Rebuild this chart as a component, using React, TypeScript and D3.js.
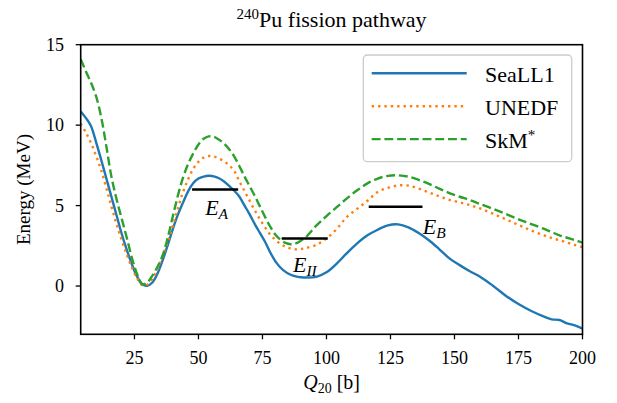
import React from 'react'
import * as d3 from 'd3'

// Q20 grid (barns) shared by the three functionals
const q20 = [
  4, 6, 8, 10, 12, 14, 16, 18, 20, 22, 24, 26, 28, 30, 32, 34, 36, 38, 40, 42, 44, 46, 48, 50, 52, 54, 56,
  58, 60, 62, 64, 66, 68, 70, 72, 74, 76, 78, 80, 82, 84, 86, 88, 90, 92, 96, 100, 104, 108, 112, 116, 120,
  124, 128, 132, 136, 140, 144, 148, 152, 156, 160, 165, 170, 175, 180, 185, 188, 191, 194, 197, 200,
]

const seall1 = [
  10.85, 10.45, 9.95, 8.95, 7.85, 6.7, 5.55, 4.4, 3.25, 2.25, 1.35, 0.6, 0.12, 0.02, 0.22, 0.78, 1.6, 2.55,
  3.55, 4.45, 5.2, 5.9, 6.4, 6.68, 6.8, 6.85, 6.82, 6.7, 6.5, 6.22, 5.92, 5.55, 5.0, 4.45, 3.85, 3.3, 2.75,
  2.1, 1.55, 1.15, 0.88, 0.7, 0.6, 0.55, 0.53, 0.57, 0.85, 1.4, 2.05, 2.65, 3.15, 3.5, 3.77, 3.83, 3.65, 3.3,
  2.85, 2.3, 1.72, 1.3, 0.92, 0.58, 0.02, -0.6, -1.12, -1.55, -1.9, -2.07, -2.11, -2.32, -2.45, -2.65,
]

const unedf = [
  10.1, 9.55, 8.9, 8.1, 7.2, 6.1, 4.95, 3.85, 2.85, 1.95, 1.15, 0.5, 0.06, 0.08, 0.45, 1.05, 1.85, 2.75,
  3.75, 4.85, 5.85, 6.65, 7.3, 7.72, 7.98, 8.08, 8.05, 7.92, 7.75, 7.5, 7.15, 6.5, 5.9, 5.3, 4.7, 4.15, 3.65,
  3.2, 2.88, 2.62, 2.44, 2.33, 2.28, 2.3, 2.36, 2.56, 2.95, 3.55, 4.3, 4.8, 5.3, 5.85, 6.1, 6.25, 6.24, 6.05,
  5.82, 5.58, 5.36, 5.2, 5.03, 4.82, 4.5, 4.15, 3.8, 3.45, 3.15, 2.98, 2.85, 2.7, 2.55, 2.42,
]

const skm = [
  14.1, 13.35, 12.65, 11.8, 10.5, 8.7, 6.8, 5.4, 4.2, 3.0, 1.75, 0.75, 0.12, 0.22, 0.65, 1.2, 1.9, 3.0, 4.35,
  5.65, 6.75, 7.6, 8.25, 8.8, 9.15, 9.3, 9.28, 9.1, 8.85, 8.5, 8.05, 7.45, 6.8, 6.2, 5.6, 4.95, 4.3, 3.7, 3.2,
  2.88, 2.68, 2.6, 2.65, 2.82, 3.05, 3.75, 4.35, 4.9, 5.45, 5.95, 6.38, 6.68, 6.85, 6.88, 6.8, 6.6, 6.35, 6.05,
  5.78, 5.55, 5.35, 5.1, 4.8, 4.48, 4.15, 3.85, 3.55, 3.35, 3.15, 3.0, 2.85, 2.7,
]

// barrier / isomer reference levels
const levelNames = ['A', 'II', 'B']
const levelE = [6.0, 2.95, 4.93]
const levelFrom = [47.5, 82.5, 116.5]
const levelTo = [65.5, 100.5, 137.5]
const labelQ = [52.6, 86.9, 137.6]
const labelE = [4.41, 0.89, 3.23]

const xTicks = [25, 50, 75, 100, 125, 150, 175, 200]
const yTicks = [0, 5, 10, 15]

const seriesNames = ['SeaLL1', 'UNEDF', 'SkM']
const seriesData = [seall1, unedf, skm]
const colors = ['#1f77b4', '#ff7f0e', '#2ca02c']
const lw = 2.4
const dashes = ['none', `${lw} ${lw * 1.65}`, `${lw * 3.7} ${lw * 1.6}`]

const W = 617
const H = 403
const left = 80.7
const right = 582.5
const top = 44.7
const bottom = 334.3
const serif = '"Liberation Serif", "Times New Roman", serif'

export default function App() {
  const x = d3.scaleLinear().domain([4, 200]).range([left, right])
  const y = d3.scaleLinear().domain([-3, 15]).range([bottom, top])

  const line = d3
    .line<number>()
    .x((_, i) => x(q20[i]))
    .y((d) => y(d))
    .curve(d3.curveCatmullRom.alpha(0.5))

  return (
    <svg
      width={W}
      height={H}
      style={{ position: 'absolute', left: 0, top: 0, background: '#fff' }}
      fontFamily={serif}
    >
      <defs>
        <clipPath id="plot">
          <rect x={left} y={top} width={right - left} height={bottom - top} />
        </clipPath>
      </defs>

      {/* title */}
      <text x={(left + right) / 2} y={27} textAnchor="middle" fontSize={22}>
        <tspan fontSize={15} dy={-8}>240</tspan>
        <tspan dy={8}>Pu fission pathway</tspan>
      </text>

      {/* curves */}
      <g clipPath="url(#plot)">
        {seriesData.map((s, i) => (
          <path
            key={seriesNames[i]}
            d={line(s) || ''}
            fill="none"
            stroke={colors[i]}
            strokeWidth={lw}
            strokeDasharray={dashes[i]}
          />
        ))}
      </g>

      {/* reference levels */}
      {levelNames.map((n, i) => (
        <g key={n}>
          <line
            x1={x(levelFrom[i])}
            x2={x(levelTo[i])}
            y1={y(levelE[i])}
            y2={y(levelE[i])}
            stroke="#000"
            strokeWidth={2.6}
          />
          <text x={x(labelQ[i])} y={y(labelE[i])} fontSize={22} fontStyle="italic">
            E
            <tspan fontSize={15.5} dy={4}>{n}</tspan>
          </text>
        </g>
      ))}

      {/* frame */}
      <rect x={left} y={top} width={right - left} height={bottom - top} fill="none" stroke="#000" strokeWidth={1.6} />

      {/* x axis */}
      {xTicks.map((t) => (
        <g key={t}>
          <line x1={x(t)} x2={x(t)} y1={bottom} y2={bottom + 5} stroke="#000" strokeWidth={1.3} />
          <text x={x(t)} y={bottom + 29.5} textAnchor="middle" fontSize={18}>
            {t}
          </text>
        </g>
      ))}
      <text x={(left + right) / 2} y={389} textAnchor="middle" fontSize={20}>
        <tspan fontStyle="italic">Q</tspan>
        <tspan fontSize={14} dy={4}>20</tspan>
        <tspan dy={-4}> [b]</tspan>
      </text>

      {/* y axis */}
      {yTicks.map((t) => (
        <g key={t}>
          <line x1={left - 5} x2={left} y1={y(t)} y2={y(t)} stroke="#000" strokeWidth={1.3} />
          <text x={64} y={y(t) + 6} textAnchor="end" fontSize={18}>
            {t}
          </text>
        </g>
      ))}
      <text transform={`translate(30, ${(top + bottom) / 2}) rotate(-90)`} textAnchor="middle" fontSize={19}>
        Energy (MeV)
      </text>

      {/* legend */}
      <rect x={363.3} y={55} width={208.4} height={106.7} rx={4} fill="#fff" fillOpacity={0.8} stroke="#cccccc" strokeWidth={1.3} />
      {seriesNames.map((n, i) => {
        const ly = 73.3 + i * 32.9
        return (
          <g key={n}>
            <line x1={371.7} x2={466.7} y1={ly} y2={ly} stroke={colors[i]} strokeWidth={lw} strokeDasharray={dashes[i]} />
            <text x={485} y={ly + 9} fontSize={22}>
              {n}
              {i === 2 && (
                <tspan fontSize={15} dy={-8}>
                  *
                </tspan>
              )}
            </text>
          </g>
        )
      })}
    </svg>
  )
}
